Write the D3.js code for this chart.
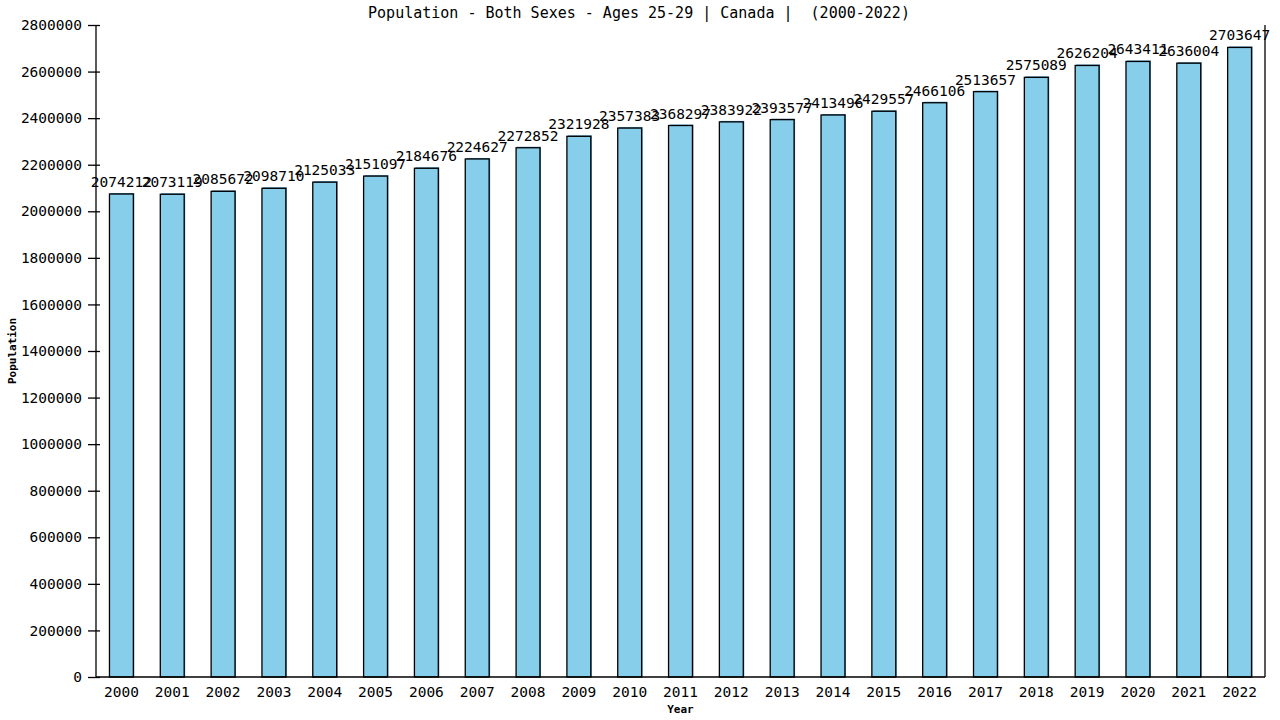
<!DOCTYPE html>
<html>
<head>
<meta charset="utf-8">
<script src="https://cdn.jsdelivr.net/npm/d3@7"></script>
<style>
  body { margin: 0; background: #fff; }
  text { font-family: "DejaVu Sans Mono", monospace; fill: #000; }
</style>
</head>
<body>
<script>
// chart data
var years = ["2000","2001","2002","2003","2004","2005","2006","2007","2008","2009","2010","2011",
             "2012","2013","2014","2015","2016","2017","2018","2019","2020","2021","2022"]
var population = [2074212, 2073119, 2085672, 2098710, 2125033, 2151097, 2184676, 2224627,
                  2272852, 2321928, 2357383, 2368297, 2383922, 2393577, 2413496, 2429557,
                  2466106, 2513657, 2575089, 2626204, 2643411, 2636004, 2703647]
var yTicks = [0, 200000, 400000, 600000, 800000, 1000000, 1200000, 1400000, 1600000,
              1800000, 2000000, 2200000, 2400000, 2600000, 2800000]

var svgWidth = 1280
var svgHeight = 720
var plotLeft = 96, plotRight = 1265, plotTop = 25, plotBottom = 677

var svg = d3.select("body").append("svg")
    .attr("width", svgWidth)
    .attr("height", svgHeight)

var x = d3.scaleBand()
    .domain(years)
    .range([plotLeft, plotRight])
    .paddingInner(0.53)
    .paddingOuter(0.265)

var y = d3.scaleLinear()
    .domain([0, 2800000])
    .range([plotBottom, plotTop])

// bars - a thin blue offset behind each, then the sky blue bar
var bars = svg.append("g")

bars.selectAll("rect.shadow")
    .data(population)
    .enter().append("rect")
    .attr("class", "shadow")
    .attr("x", function(d, i) { return x(years[i]) + 1 })
    .attr("y", function(d) { return y(d) - 1 })
    .attr("width", x.bandwidth())
    .attr("height", function(d) { return plotBottom - y(d) + 1 })
    .attr("fill", "#4f8fb8")

bars.selectAll("rect.bar")
    .data(population)
    .enter().append("rect")
    .attr("class", "bar")
    .attr("x", function(d, i) { return x(years[i]) })
    .attr("y", function(d) { return y(d) })
    .attr("width", x.bandwidth())
    .attr("height", function(d) { return plotBottom - y(d) })
    .attr("fill", "#87ceeb")
    .attr("stroke", "#000")
    .attr("stroke-width", 1.3)

// value labels
svg.append("g").selectAll("text")
    .data(population)
    .enter().append("text")
    .attr("x", function(d, i) { return x(years[i]) + x.bandwidth() / 2 })
    .attr("y", function(d) { return y(d) - 7 })
    .attr("text-anchor", "middle")
    .style("font-size", "14.5px")
    .text(function(d) { return d })

// y axis
var yAxis = svg.append("g")
    .attr("transform", "translate(" + plotLeft + ",0)")
    .call(d3.axisLeft(y).tickValues(yTicks).tickFormat(d3.format("d")).tickSize(8).tickPadding(6))
yAxis.select(".domain").attr("d", "M0," + plotTop + "V" + plotBottom).attr("stroke", "#000").attr("stroke-width", 1.3)
yAxis.selectAll(".tick line").attr("x2", -8).attr("x1", 4).attr("stroke", "#000").attr("stroke-width", 1.3)
yAxis.selectAll(".tick text").style("font-size", "14.5px")

// x axis
var xAxis = svg.append("g")
    .attr("transform", "translate(0," + plotBottom + ")")
    .call(d3.axisBottom(x).tickSize(0).tickPadding(7))
xAxis.select(".domain").attr("d", "M" + plotLeft + ",0H" + plotRight).attr("stroke", "#000").attr("stroke-width", 1.3)
xAxis.selectAll(".tick text").style("font-size", "14.5px").attr("dy", "0.9em")

// right border
svg.append("line")
    .attr("x1", plotRight).attr("x2", plotRight)
    .attr("y1", plotTop).attr("y2", plotBottom)
    .attr("stroke", "#000")
    .attr("stroke-width", 1.3)

// titles
svg.append("text")
    .attr("x", 639)
    .attr("y", 18)
    .attr("text-anchor", "middle")
    .style("font-size", "15px")
    .style("white-space", "pre")
    .attr("xml:space", "preserve")
    .text("Population - Both Sexes - Ages 25-29 | Canada |  (2000-2022)")

svg.append("text")
    .attr("x", (plotLeft + plotRight) / 2)
    .attr("y", 713)
    .attr("text-anchor", "middle")
    .style("font-size", "11px")
    .style("font-weight", "bold")
    .text("Year")

svg.append("text")
    .attr("transform", "translate(16," + (plotBottom + plotTop) / 2 + ") rotate(-90)")
    .attr("text-anchor", "middle")
    .style("font-size", "11px")
    .style("font-weight", "bold")
    .text("Population")
</script>
</body>
</html>
